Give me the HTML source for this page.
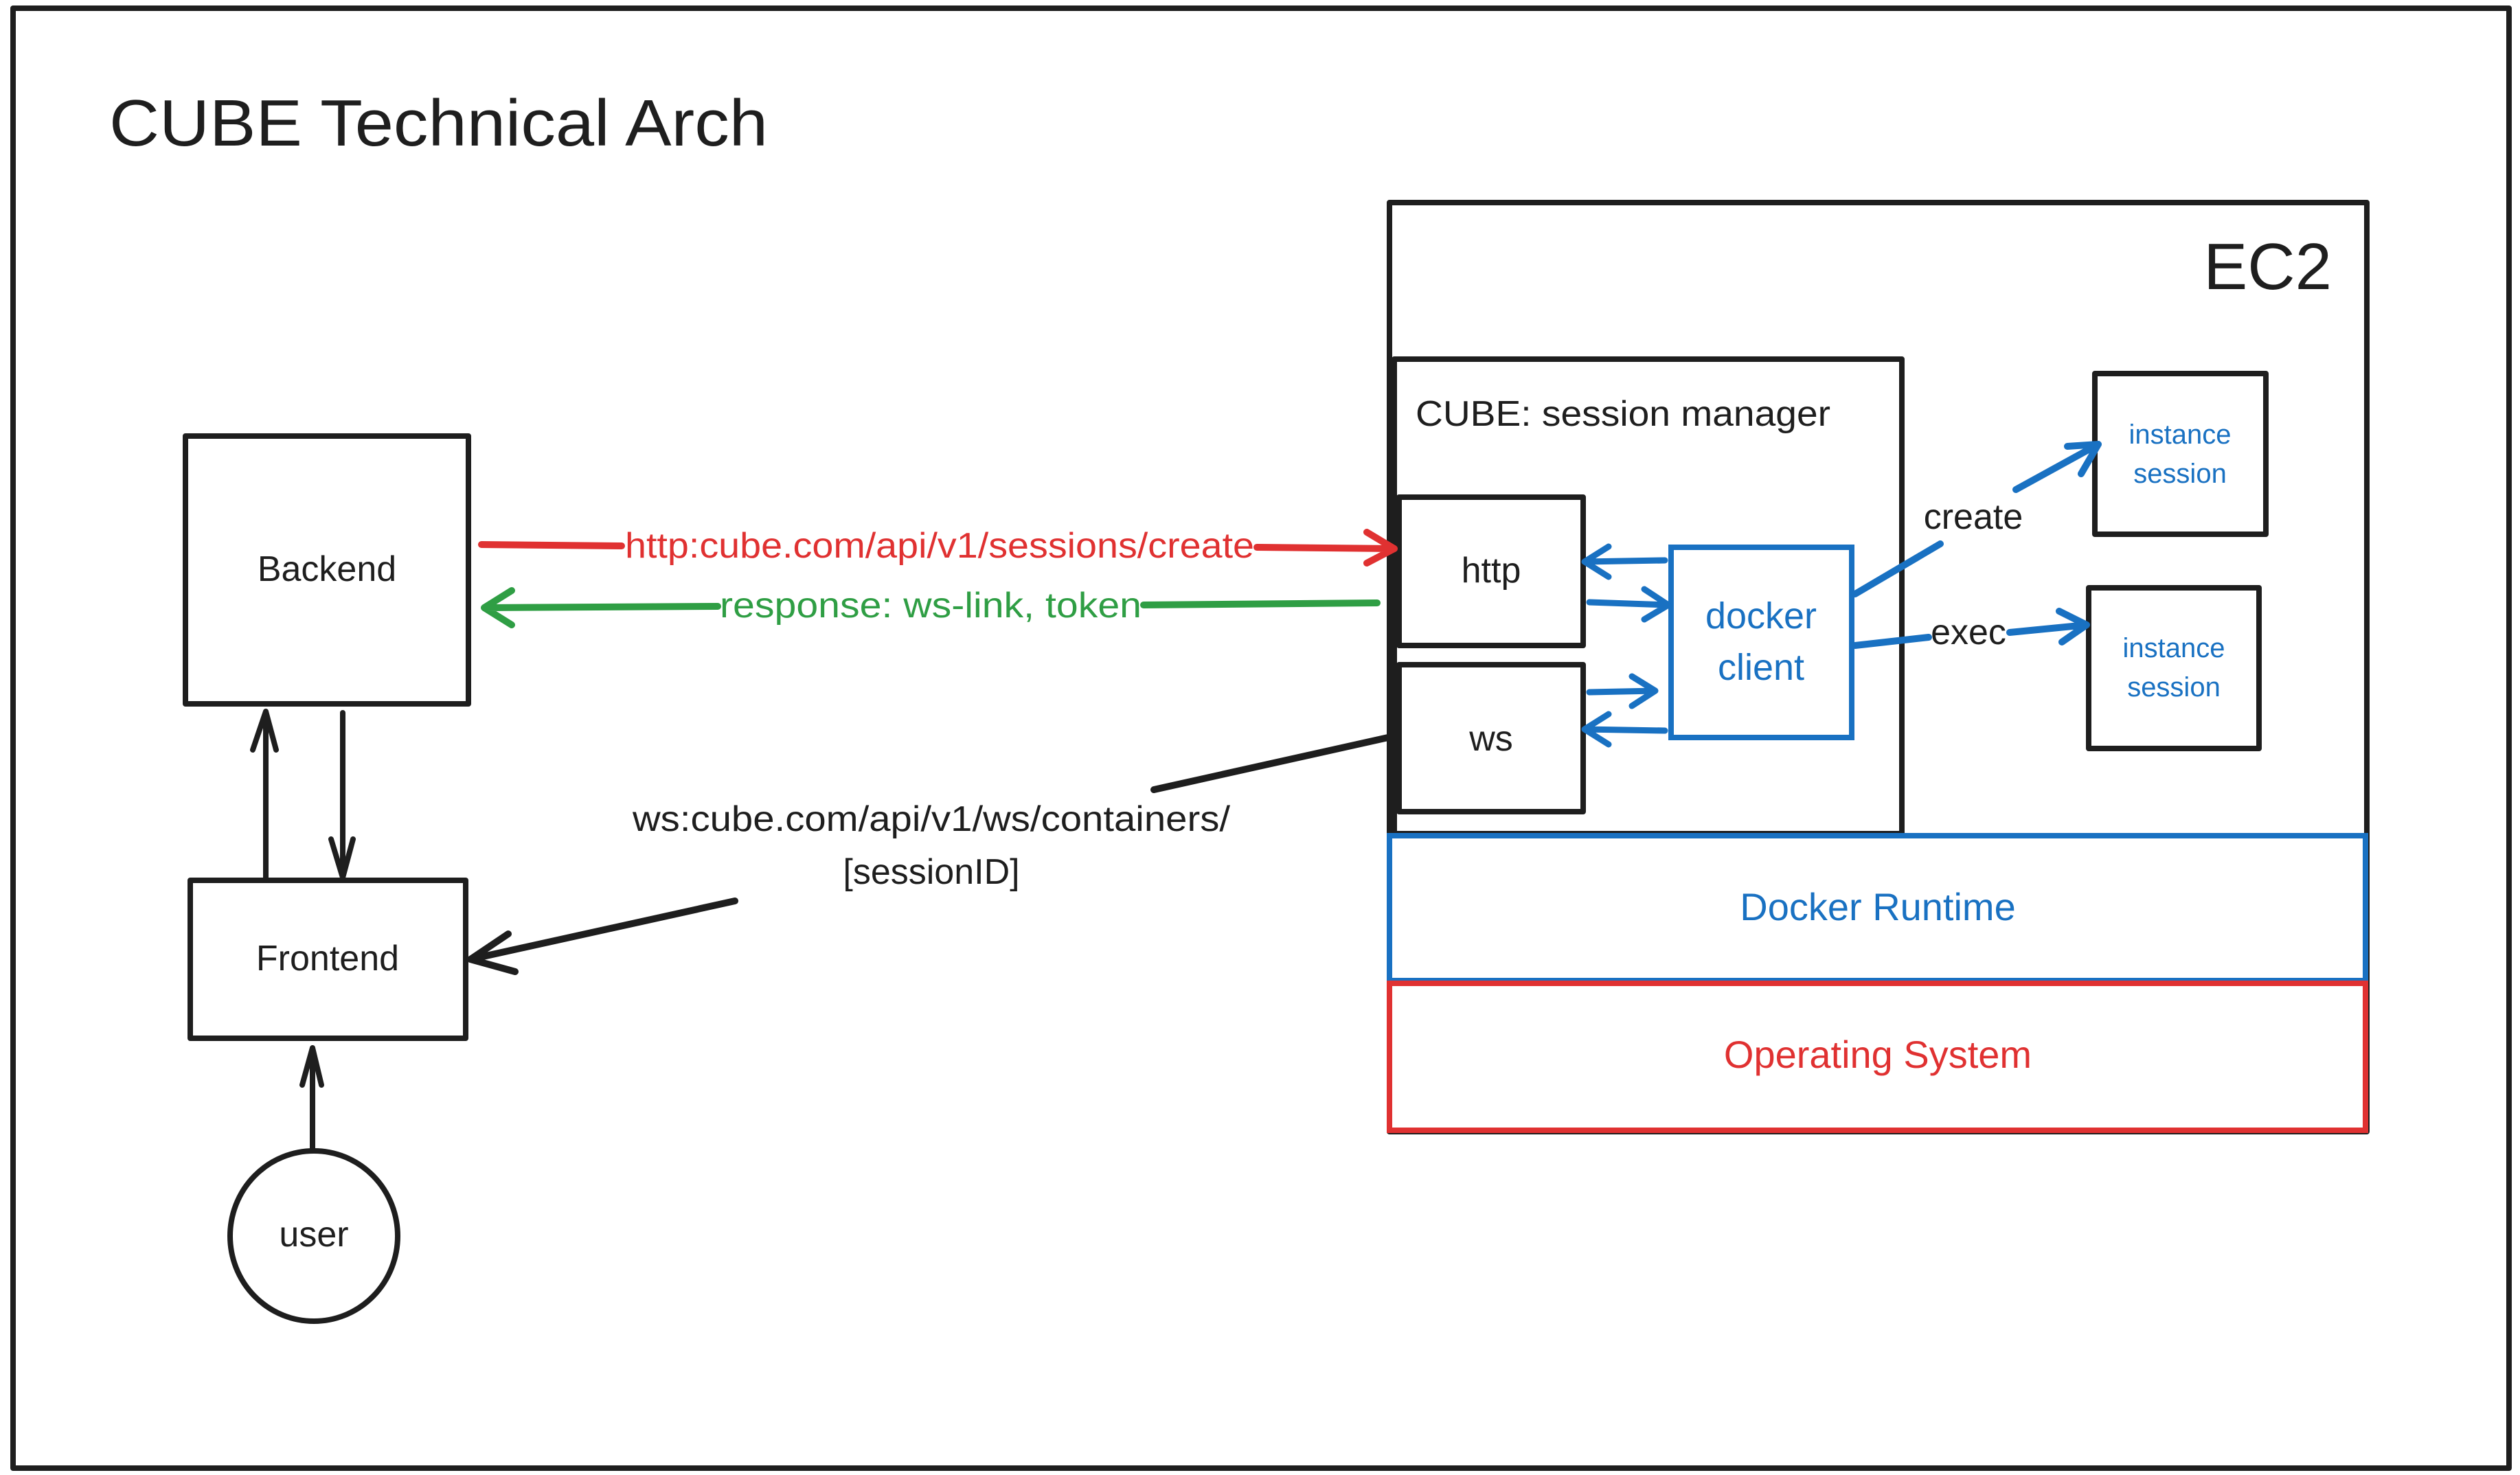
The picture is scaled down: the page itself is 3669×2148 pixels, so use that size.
<!DOCTYPE html>
<html><head><meta charset="utf-8"><style>
html,body{margin:0;padding:0;background:#fff}
svg{display:block}
text{font-family:"Liberation Sans",sans-serif}
</style></head><body>
<svg width="3669" height="2148" viewBox="0 0 3669 2148" xmlns="http://www.w3.org/2000/svg">
<rect x="0" y="0" width="3669" height="2148" fill="#fff"/>
<g fill="none" stroke="#1e1e1e" stroke-width="8" stroke-linecap="round" stroke-linejoin="round">
<rect x="19" y="12" width="3634" height="2126"/>
<rect x="270" y="635" width="412" height="390"/>
<rect x="277" y="1282" width="401" height="230"/>
<ellipse cx="457" cy="1800" rx="122" ry="124"/>
<rect x="2023" y="295" width="1423" height="1353"/>
<rect x="2030" y="523" width="739" height="691"/>
<rect x="2037" y="724" width="268" height="216"/>
<rect x="2037" y="968" width="268" height="214"/>
<rect x="3050" y="544" width="249" height="234"/>
<rect x="3041" y="856" width="248" height="234"/>
<path d="M387 1282 L387 1036 M368 1092 L387 1036 L402 1092"/>
<path d="M499 1038 L499 1278 M482 1222 L499 1278 L514 1222"/>
<path d="M455 1676 L455 1526 M440 1580 L455 1526 L468 1580"/>
<path d="M2021 1074 L1680 1150 M1070 1312 L685 1397 M740 1360 L685 1397 L750 1415" stroke-width="10"/>
</g>
<rect x="2023" y="1217" width="1421" height="211" fill="none" stroke="#1971c2" stroke-width="8"/>
<rect x="2023" y="1432" width="1421" height="214" fill="none" stroke="#e03131" stroke-width="8"/>
<rect x="2433" y="797" width="263" height="277" fill="none" stroke="#1971c2" stroke-width="8"/>
<g fill="none" stroke="#1971c2" stroke-width="9" stroke-linecap="round" stroke-linejoin="round">
<path d="M2424 816 L2307 818 M2342 796 L2307 818 L2342 840"/>
<path d="M2314 877 L2429 881 M2394 858 L2429 881 L2394 902"/>
<path d="M2314 1008 L2410 1006 M2376 985 L2410 1006 L2376 1028"/>
<path d="M2424 1064 L2307 1062 M2342 1040 L2307 1062 L2342 1084"/>
<path d="M2701 865 L2825 792 M2935 713 L3055 647 M3010 650 L3055 647 L3030 690" stroke-width="10"/>
<path d="M2701 940 L2808 928 M2926 921 L3038 910 M2998 890 L3038 910 L3002 935" stroke-width="10"/>
</g>
<g fill="none" stroke="#e03131" stroke-width="10" stroke-linecap="round" stroke-linejoin="round">
<path d="M701 793 L905 795 M1830 797 L2030 799 M1990 775 L2030 799 L1990 820"/>
</g>
<g fill="none" stroke="#2f9e44" stroke-width="10" stroke-linecap="round" stroke-linejoin="round">
<path d="M2005 878 L1665 881 M1045 883 L705 885 M745 860 L705 885 L745 910"/>
</g>
<g fill="#1e1e1e">
<text x="159" y="212" font-size="96" textLength="959" lengthAdjust="spacingAndGlyphs">CUBE Technical Arch</text>
<text x="3395" y="421" font-size="96" text-anchor="end">EC2</text>
<text x="2061" y="620" font-size="52" textLength="604" lengthAdjust="spacingAndGlyphs">CUBE: session manager</text>
<text x="476" y="846" font-size="52" text-anchor="middle">Backend</text>
<text x="477" y="1413" font-size="52" text-anchor="middle">Frontend</text>
<text x="457" y="1815" font-size="52" text-anchor="middle">user</text>
<text x="2171" y="848" font-size="52" text-anchor="middle">http</text>
<text x="2171" y="1093" font-size="52" text-anchor="middle">ws</text>
<text x="2873" y="770" font-size="52" text-anchor="middle">create</text>
<text x="2866" y="938" font-size="52" text-anchor="middle">exec</text>
<text x="921" y="1210" font-size="52" textLength="870" lengthAdjust="spacingAndGlyphs">ws:cube.com/api/v1/ws/containers/</text>
<text x="1356" y="1287" font-size="52" text-anchor="middle">[sessionID]</text>
</g>
<g fill="#1971c2">
<text x="2564" y="915" font-size="54" text-anchor="middle">docker</text>
<text x="2564" y="990" font-size="54" text-anchor="middle">client</text>
<text x="3174" y="646" font-size="40" text-anchor="middle">instance</text>
<text x="3174" y="703" font-size="40" text-anchor="middle">session</text>
<text x="3165" y="957" font-size="40" text-anchor="middle">instance</text>
<text x="3165" y="1014" font-size="40" text-anchor="middle">session</text>
<text x="2734" y="1340" font-size="56" text-anchor="middle">Docker Runtime</text>
</g>
<text x="2734" y="1555" font-size="56" text-anchor="middle" fill="#e03131">Operating System</text>
<text x="910" y="812" font-size="52" fill="#e03131" textLength="916" lengthAdjust="spacingAndGlyphs">http:cube.com/api/v1/sessions/create</text>
<text x="1048" y="899" font-size="52" fill="#2f9e44" textLength="614" lengthAdjust="spacingAndGlyphs">response: ws-link, token</text>
</svg>
</body></html>
